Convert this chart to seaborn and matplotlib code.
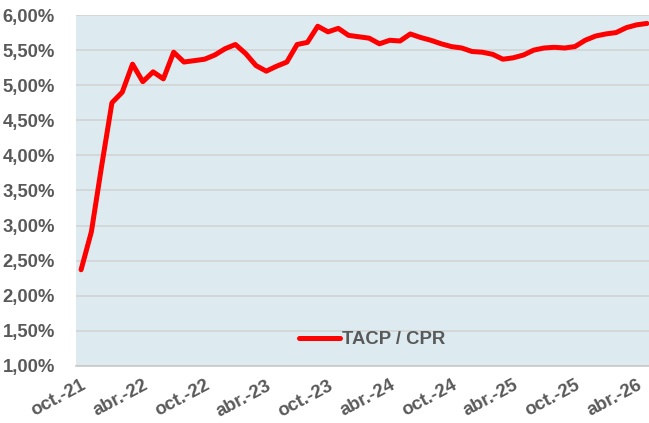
import matplotlib
matplotlib.use("Agg")
import matplotlib.pyplot as plt
import seaborn as sns
import pandas as pd

# monthly TACP / CPR, oct-21 .. may-26 (in %)
months = list(range(56))
tacp = [2.37, 2.91, 3.85, 4.75, 4.90, 5.30, 5.05, 5.19, 5.09, 5.47,
        5.33, 5.35, 5.37, 5.43, 5.52, 5.58, 5.45, 5.28, 5.20, 5.27,
        5.33, 5.58, 5.61, 5.84, 5.76, 5.81, 5.71, 5.69, 5.67, 5.59,
        5.64, 5.63, 5.73, 5.68, 5.64, 5.59, 5.55, 5.53, 5.48, 5.47,
        5.44, 5.37, 5.39, 5.43, 5.50, 5.53, 5.54, 5.53, 5.55, 5.64,
        5.70, 5.73, 5.75, 5.82, 5.86, 5.88]
tick_pos = [0, 6, 12, 18, 24, 30, 36, 42, 48, 54]
tick_labels = ["oct.-21", "abr.-22", "oct.-22", "abr.-23", "oct.-23",
               "abr.-24", "oct.-24", "abr.-25", "oct.-25", "abr.-26"]
y_ticks = [1.0, 1.5, 2.0, 2.5, 3.0, 3.5, 4.0, 4.5, 5.0, 5.5, 6.0]

sns.set_style("white")
plt.rcParams['font.family'] = ['Liberation Sans', 'DejaVu Sans']

df = pd.DataFrame({"mes": months, "TACP / CPR": tacp})

fig = plt.figure(figsize=(6.49, 4.23), dpi=100)
ax = fig.add_axes([0.117, 0.135, 0.883, 0.8295])
ax.set_facecolor("#DDEBF0")

sns.lineplot(data=df, x="mes", y="TACP / CPR", ax=ax, color="#FF0000",
             linewidth=3.6, label="TACP / CPR")
for l in ax.get_lines():
    l.set_solid_joinstyle("round")
    l.set_solid_capstyle("round")

ax.set_xlim(-0.5, 55.2)
ax.set_ylim(1.0, 6.0)
ax.set_yticks(y_ticks)
ax.set_yticklabels([f"{v:.2f}".replace(".", ",") + "%" for v in y_ticks],
                   fontsize=13.3, fontweight="bold", color="#595959")
ax.set_xticks(tick_pos)
ax.set_xticklabels(tick_labels, rotation=28, ha="right", rotation_mode="anchor",
                   fontsize=13.3, fontweight="bold", color="#595959")
ax.tick_params(axis="y", length=0, pad=15)
ax.tick_params(axis="x", length=0, pad=8)
ax.grid(axis="y", color="#D3D3D3", linewidth=1.2)
ax.set_axisbelow(True)
ax.set_xlabel("")
ax.set_ylabel("")
for s in ["top", "right", "left"]:
    ax.spines[s].set_visible(False)
ax.spines["bottom"].set_color("#C8C8C8")
ax.spines["bottom"].set_linewidth(1.2)

leg = ax.legend(loc="center", bbox_to_anchor=(0.517, 0.075), frameon=False,
                handlelength=2.2, handletextpad=0.15,
                prop={"size": 13.3, "weight": "bold"})
for t in leg.get_texts():
    t.set_color("#595959")

fig.savefig("out.png", dpi=100)
